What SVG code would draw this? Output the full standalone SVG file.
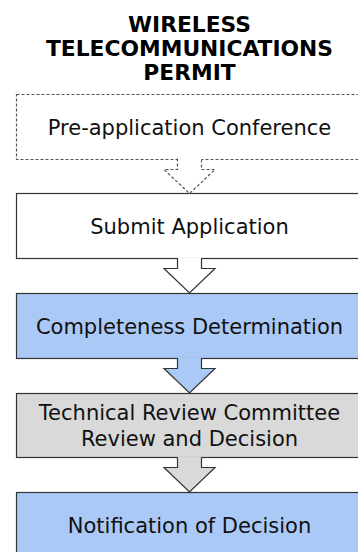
<svg xmlns="http://www.w3.org/2000/svg" width="358" height="552" viewBox="0 0 358 552">
<style>
.box{stroke:#333;stroke-width:1.2}
.dash{stroke:#555;stroke-width:1.2;stroke-dasharray:3,2}
.w{fill:#fff}.b{fill:#abc9f7}.g{fill:#d9d9d9}
.t{font-family:"DejaVu Sans",Verdana,sans-serif;font-size:21px;fill:#111;text-anchor:middle}
.h{font-family:"DejaVu Sans",Verdana,sans-serif;font-size:21.8px;font-weight:bold;fill:#000;text-anchor:middle}
</style>
<rect width="358" height="552" fill="#fff"/>
<g id="title">
<text class="h" x="189.5" y="32">WIRELESS</text>
<text class="h" x="189.5" y="56">TELECOMMUNICATIONS</text>
<text class="h" x="189.5" y="80">PERMIT</text>
</g>
<g id="n1"><rect class="w dash" x="16.5" y="94.5" width="346" height="65"/><text class="t" x="189.5" y="135">Pre-application Conference</text></g>
<g id="n2"><rect class="w box" x="16.5" y="193.5" width="346" height="65"/><text class="t" x="189.5" y="234">Submit Application</text></g>
<g id="n3"><rect class="b box" x="16.5" y="293.5" width="346" height="65"/><text class="t" x="189.5" y="334">Completeness Determination</text></g>
<g id="n4"><rect class="g box" x="16.5" y="393.5" width="346" height="64"/><text class="t" x="189.5" y="420">Technical Review Committee</text><text class="t" x="189.5" y="446">Review and Decision</text></g>
<g id="n5"><rect class="b box" x="16.5" y="492.5" width="346" height="65"/><text class="t" x="189.5" y="533">Notification of Decision</text></g>
<g id="connectors">
<path class="w dash" d="M177.5,158.5 V169.5 H164 L189.5,193.5 L215,169.5 H201.5 V158.5"/>
<rect x="178.2" y="158" width="22.6" height="3" fill="#fff"/>
<path class="w box" d="M177.5,258 V268.5 H164 L189.5,293 L215,268.5 H201.5 V258"/>
<rect x="178.2" y="257.5" width="22.6" height="2" fill="#fff"/>
<path class="b box" d="M177.5,358 V368.5 H164 L189.5,393 L215,368.5 H201.5 V358"/>
<rect x="178.2" y="357.5" width="22.6" height="2" fill="#abc9f7"/>
<path class="g box" d="M177.5,457 V467.5 H164 L189.5,492 L215,467.5 H201.5 V457"/>
<rect x="178.2" y="456.5" width="22.6" height="2" fill="#d9d9d9"/>
</g>
</svg>
